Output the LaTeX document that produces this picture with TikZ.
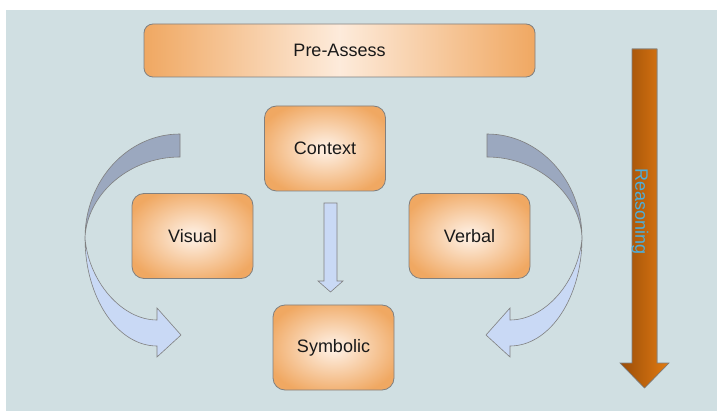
\documentclass[tikz,border=0pt]{standalone}
\usepackage{fontspec}
\setmainfont{Liberation Sans}
\definecolor{backdrop}{HTML}{D0DFE2}
\definecolor{boxorange}{HTML}{F0A862}
\definecolor{boxlight}{HTML}{FDEBDB}
\definecolor{edgegray}{HTML}{808080}
\definecolor{backface}{HTML}{9BA8BF}
\definecolor{frontface}{HTML}{C9D9F5}
\definecolor{rustdark}{HTML}{9A4C08}
\definecolor{rustlight}{HTML}{E27C12}
\definecolor{skyblue}{HTML}{4DAEDB}
\pgfdeclareradialshading{boxglow}{\pgfpoint{0bp}{0bp}}{%
    color(0bp)=(boxlight); color(3bp)=(boxlight);
    color(29bp)=(boxorange); color(50bp)=(boxorange)}
\tikzset{
    stage/.style={draw=edgegray, line width=0.8pt, rounded corners=12pt,
        shading=boxglow,
        minimum width=121pt, minimum height=85pt,
        font=\fontsize{18}{20}\selectfont, text=black!90}, % Orange step boxes
    banner/.style={stage, rounded corners=9pt,
        left color=boxorange, right color=boxorange, middle color=boxlight,
        minimum width=391pt, minimum height=53pt}, % Wide top box
    blockarrow/.style={draw=edgegray, line width=0.6pt, line join=miter},
}

\begin{document}
\begin{tikzpicture}[
    x=1pt, y=-1pt, % Pixel grid, y downwards
    swoosh/.pic={
        % dark back face
        \filldraw[blockarrow, fill=backface]
            (-153.5,134) .. controls (-205.9,134) and (-248.5,180.6) .. (-248.5,238)
            .. controls (-247,196) and (-205.9,157) .. (-153.5,157) -- cycle;
        % light front face with head
        \filldraw[blockarrow, fill=frontface]
            (-248.5,238) .. controls (-248.5,297.6) and (-216.2,346) .. (-176.5,346)
            -- (-176.5,357) -- (-152.5,335) -- (-176.5,308) -- (-176.5,320)
            .. controls (-212,320) and (-245,281) .. (-248.5,238) -- cycle;
    }
]
    \useasboundingbox (0,0) rectangle (717,411);
    \fill[backdrop] (6,10) rectangle (717,411);

    % --- Boxes ---
    \node[banner] (preassess) at (339.5,50.5) {Pre-Assess};
    \node[stage] (context) at (325,148.5) {Context};
    \node[stage] (visual) at (192.5,236) {Visual};
    \node[stage] (verbal) at (469.5,236) {Verbal};
    \node[stage] (symbolic) at (333.5,347.5) {Symbolic};

    % --- Curved arrows ---
    \pic at (333.5,0) {swoosh};
    \pic[xscale=-1] at (333.5,0) {swoosh};

    % --- Context to Symbolic ---
    \filldraw[blockarrow, fill=frontface]
        (324,203) -- (337,203) -- (337,281) -- (343,281) -- (330.5,292)
        -- (318,281) -- (324,281) -- cycle;

    % --- Reasoning ---
    \filldraw[blockarrow, left color=rustdark, right color=rustlight]
        (632,49) -- (657,49) -- (657,363) -- (669,363) -- (644.5,388)
        -- (620,363) -- (632,363) -- cycle;
    \node[rotate=-90, text=skyblue, font=\fontsize{18}{20}\selectfont] (reasoning)
        at (640,211.5) {Reasoning};

\end{tikzpicture}
\end{document}
